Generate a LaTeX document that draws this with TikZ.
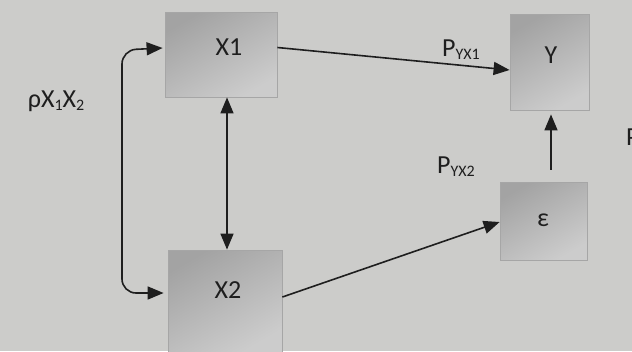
\documentclass[tikz,border=0pt]{standalone}
\usepackage{fontspec}
\setmainfont{Carlito}
\usetikzlibrary{arrows.meta,calc}
\definecolor{bgc}{RGB}{204,204,202}
\definecolor{ink}{RGB}{30,30,30}
\tikzset{
  var/.style={inner sep=0pt, draw=black!35, line width=0.8pt,
    left color=black!36, right color=black!20, shading angle=30,
    text=ink, font=\fontsize{26}{30}\selectfont},
  conn/.style={draw=ink, line width=1.6pt, -{Triangle[length=16pt,width=13pt]}},
  dconn/.style={draw=ink, line width=1.6pt, {Triangle[length=16pt,width=13pt]}-{Triangle[length=16pt,width=13pt]}},
  lbl/.style={text=ink, font=\fontsize{26}{30}\selectfont, inner sep=0pt}
}
\newcommand{\sbs}[1]{\raisebox{-0.12em}{\fontsize{16}{18}\selectfont #1}}
\begin{document}
\begin{tikzpicture}[x=1pt,y=-1pt]
\fill[bgc] (0,0) rectangle (632,351);
\useasboundingbox (0,0) rectangle (632,351);
\node[var, minimum width=112pt, minimum height=85pt] (X1) at (221,54.5) {};
\node[lbl] at (229,47) {X1};
\node[var, minimum width=114pt, minimum height=102pt] (X2) at (225,301) {};
\node[lbl] at (228,290) {X2};
\node[var, minimum width=79pt, minimum height=96pt] (Y) at (549.5,62) {};
\node[lbl] at (551,55) {Y};
\node[var, minimum width=87pt, minimum height=78pt] (E) at (543.5,221) {};
\node[lbl] at (543,220) {ε};
% connectors
\draw[conn] ([yshift=7pt]X1.east) -- ([yshift=-8pt]Y.west);
\draw[conn] ([yshift=4pt]X2.east) -- ([yshift=-1pt]E.west);
\draw[conn] ($(Y.south |- E.north)+(1.5,-12)$) -- ([xshift=1.5pt,yshift=-4pt]Y.south);
\draw[dconn] ([xshift=6pt]X1.south) -- ([xshift=2pt]X2.north);
\coordinate (c1) at (122,50);
\coordinate (c2) at (122,293);
\draw[dconn, rounded corners=14pt] ([xshift=-2pt,yshift=6.5pt]X1.west) -- (c1) -- (c2) -- ([xshift=-4pt,yshift=8pt]X2.west);
% labels
\node[lbl] (l1) at (461,50) {P\sbs{YX1}};
\node[lbl] (l2) at (456,167) {P\sbs{YX2}};
\node[lbl] (l3) at (56,101) {ρX\sbs{1}X\sbs{2}};
\node[lbl, anchor=west] (l4) at (626,137) {P};
\end{tikzpicture}
\end{document}
